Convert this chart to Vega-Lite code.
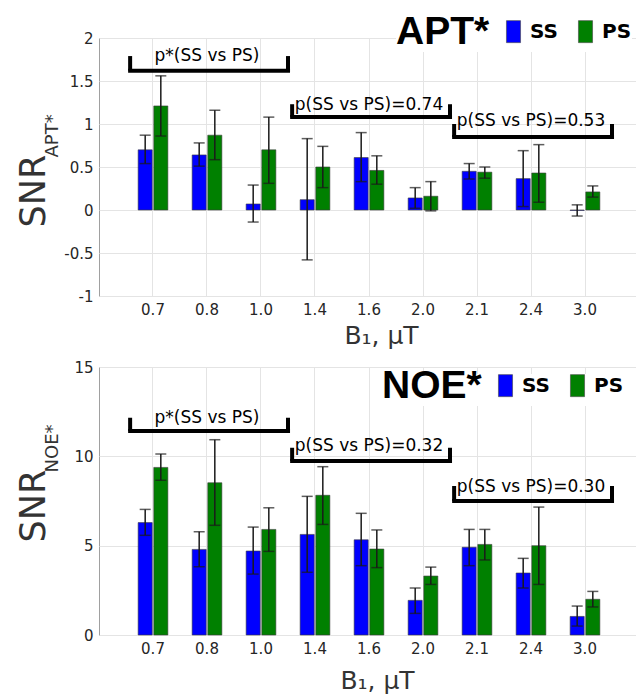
{
  "$schema": "https://vega.github.io/schema/vega-lite/v6.json",
  "background": "white",
  "padding": {"left": 15, "top": 19, "right": 0, "bottom": 0},
  "spacing": 10,
  "resolve": {"scale": {"color": "independent"}, "legend": {"color": "independent"}},
  "datasets": {
    "apt": [
      {"b1": "0.7", "seq": "SS", "snr": 0.70, "lo": 0.54, "hi": 0.87},
      {"b1": "0.7", "seq": "PS", "snr": 1.21, "lo": 0.86, "hi": 1.56},
      {"b1": "0.8", "seq": "SS", "snr": 0.64, "lo": 0.51, "hi": 0.78},
      {"b1": "0.8", "seq": "PS", "snr": 0.87, "lo": 0.585, "hi": 1.16},
      {"b1": "1.0", "seq": "SS", "snr": 0.07, "lo": -0.14, "hi": 0.29},
      {"b1": "1.0", "seq": "PS", "snr": 0.70, "lo": 0.31, "hi": 1.08},
      {"b1": "1.4", "seq": "SS", "snr": 0.12, "lo": -0.58, "hi": 0.83},
      {"b1": "1.4", "seq": "PS", "snr": 0.50, "lo": 0.26, "hi": 0.74},
      {"b1": "1.6", "seq": "SS", "snr": 0.61, "lo": 0.33, "hi": 0.90},
      {"b1": "1.6", "seq": "PS", "snr": 0.46, "lo": 0.30, "hi": 0.63},
      {"b1": "2.0", "seq": "SS", "snr": 0.14, "lo": 0.02, "hi": 0.26},
      {"b1": "2.0", "seq": "PS", "snr": 0.16, "lo": -0.01, "hi": 0.33},
      {"b1": "2.1", "seq": "SS", "snr": 0.45, "lo": 0.36, "hi": 0.54},
      {"b1": "2.1", "seq": "PS", "snr": 0.44, "lo": 0.37, "hi": 0.50},
      {"b1": "2.4", "seq": "SS", "snr": 0.365, "lo": 0.04, "hi": 0.69},
      {"b1": "2.4", "seq": "PS", "snr": 0.43, "lo": 0.09, "hi": 0.76},
      {"b1": "3.0", "seq": "SS", "snr": -0.005, "lo": -0.07, "hi": 0.06},
      {"b1": "3.0", "seq": "PS", "snr": 0.21, "lo": 0.15, "hi": 0.28}
    ],
    "noe": [
      {"b1": "0.7", "seq": "SS", "snr": 6.29, "lo": 5.58, "hi": 7.03},
      {"b1": "0.7", "seq": "PS", "snr": 9.38, "lo": 8.66, "hi": 10.13},
      {"b1": "0.8", "seq": "SS", "snr": 4.79, "lo": 3.82, "hi": 5.78},
      {"b1": "0.8", "seq": "PS", "snr": 8.52, "lo": 6.14, "hi": 10.93},
      {"b1": "1.0", "seq": "SS", "snr": 4.70, "lo": 3.41, "hi": 6.04},
      {"b1": "1.0", "seq": "PS", "snr": 5.91, "lo": 4.68, "hi": 7.12},
      {"b1": "1.4", "seq": "SS", "snr": 5.63, "lo": 3.51, "hi": 7.76},
      {"b1": "1.4", "seq": "PS", "snr": 7.82, "lo": 6.19, "hi": 9.42},
      {"b1": "1.6", "seq": "SS", "snr": 5.33, "lo": 3.88, "hi": 6.81},
      {"b1": "1.6", "seq": "PS", "snr": 4.81, "lo": 3.77, "hi": 5.88},
      {"b1": "2.0", "seq": "SS", "snr": 1.94, "lo": 1.21, "hi": 2.63},
      {"b1": "2.0", "seq": "PS", "snr": 3.30, "lo": 2.83, "hi": 3.80},
      {"b1": "2.1", "seq": "SS", "snr": 4.91, "lo": 3.88, "hi": 5.91},
      {"b1": "2.1", "seq": "PS", "snr": 5.07, "lo": 4.20, "hi": 5.91},
      {"b1": "2.4", "seq": "SS", "snr": 3.47, "lo": 2.63, "hi": 4.29},
      {"b1": "2.4", "seq": "PS", "snr": 5.00, "lo": 2.83, "hi": 7.16},
      {"b1": "3.0", "seq": "SS", "snr": 1.04, "lo": 0.50, "hi": 1.62},
      {"b1": "3.0", "seq": "PS", "snr": 2.00, "lo": 1.57, "hi": 2.44}
    ],
    "aptBr": [
      {"from": "0.7", "to": "1.0", "mid": "0.8", "bar": 1.62, "top": 1.79, "ty": 1.727, "label": "p*(SS vs PS)"},
      {"from": "1.4", "to": "2.0", "mid": "1.6", "bar": 1.08, "top": 1.23, "ty": 1.157, "label": "p(SS vs PS)=0.74"},
      {"from": "2.1", "to": "3.0", "mid": "2.4", "bar": 0.85, "top": 1.0, "ty": 0.971, "label": "p(SS vs PS)=0.53"}
    ],
    "noeBr": [
      {"from": "0.7", "to": "1.0", "mid": "0.8", "bar": 11.42, "top": 12.16, "ty": 11.84, "label": "p*(SS vs PS)"},
      {"from": "1.4", "to": "2.0", "mid": "1.6", "bar": 9.74, "top": 10.48, "ty": 10.32, "label": "p(SS vs PS)=0.32"},
      {"from": "2.1", "to": "3.0", "mid": "2.4", "bar": 7.50, "top": 8.34, "ty": 8.03, "label": "p(SS vs PS)=0.30"}
    ]
  },
  "vconcat": [
    {
      "width": 540,
      "height": 258,
      "resolve": {"axis": {"y": "independent"}},
      "layer": [
        {
          "data": {"name": "apt"},
          "mark": {"type": "bar", "stroke": "#3a3a3a", "strokeWidth": 0.6},
          "encoding": {
            "x": {"field": "b1", "type": "nominal", "title": "B₁, μT", "scale": {"domain": ["0.7","0.8","1.0","1.4","1.6","2.0","2.1","2.4","3.0"], "paddingInner": 0.45, "paddingOuter": 0.725}, "axis": {"titleX": 282, "titleY": 47}},
            "xOffset": {"field": "seq", "type": "nominal", "scale": {"domain": ["SS", "PS"], "paddingInner": 0.1}},
            "y": {"field": "snr", "type": "quantitative", "scale": {"domain": [-1, 2], "nice": false, "zero": false},
                  "axis": {"values": [-1, -0.5, 0, 0.5, 1, 1.5, 2], "labelExpr": "'' + datum.value", "grid": true, "title": "SNR", "titleFontSize": 35, "titleX": -55, "titleY": 189}},
            "color": {"field": "seq", "type": "nominal", "scale": {"domain": ["SS", "PS"], "range": ["#0000ff", "#008000"]},
                      "legend": {"title": "APT*", "legendX": 297, "legendY": -18}}
          }
        },
        {
          "data": {"name": "apt"},
          "mark": {"type": "rule", "color": "#1a1a1a", "strokeWidth": 1.5},
          "encoding": {
            "x": {"field": "b1", "type": "nominal", "title": "B₁, μT", "axis": {"titleX": 282, "titleY": 47}},
            "xOffset": {"field": "seq", "type": "nominal"},
            "y": {"field": "lo", "type": "quantitative", "axis": {"orient": "left", "title": "APT*", "labels": false, "ticks": false, "domain": false, "grid": false, "titleFontSize": 18, "titleX": -42, "titleY": 119}},
            "y2": {"field": "hi"}
          }
        },
        {
          "data": {"name": "apt"},
          "mark": {"type": "tick", "orient": "horizontal", "color": "#1a1a1a", "size": 11, "thickness": 1.5},
          "encoding": {
            "x": {"field": "b1", "type": "nominal", "title": "B₁, μT", "axis": {"titleX": 282, "titleY": 47}},
            "xOffset": {"field": "seq", "type": "nominal"},
            "y": {"field": "lo", "type": "quantitative", "axis": null}
          }
        },
        {
          "data": {"name": "apt"},
          "mark": {"type": "tick", "orient": "horizontal", "color": "#1a1a1a", "size": 11, "thickness": 1.5},
          "encoding": {
            "x": {"field": "b1", "type": "nominal", "title": "B₁, μT", "axis": {"titleX": 282, "titleY": 47}},
            "xOffset": {"field": "seq", "type": "nominal"},
            "y": {"field": "hi", "type": "quantitative", "axis": null}
          }
        },
        {
          "data": {"name": "aptBr"},
          "mark": {"type": "rule", "color": "black", "strokeWidth": 4, "strokeCap": "square"},
          "encoding": {
            "x": {"field": "from", "type": "nominal", "title": "B₁, μT", "bandPosition": -0.27, "axis": {"titleX": 282, "titleY": 47}},
            "x2": {"field": "to", "bandPosition": 1.41},
            "y": {"field": "bar", "type": "quantitative", "axis": null}
          }
        },
        {
          "data": {"name": "aptBr"},
          "mark": {"type": "rule", "color": "black", "strokeWidth": 4},
          "encoding": {
            "x": {"field": "from", "type": "nominal", "title": "B₁, μT", "bandPosition": -0.27, "axis": {"titleX": 282, "titleY": 47}},
            "y": {"field": "bar", "type": "quantitative", "axis": null},
            "y2": {"field": "top"}
          }
        },
        {
          "data": {"name": "aptBr"},
          "mark": {"type": "rule", "color": "black", "strokeWidth": 4},
          "encoding": {
            "x": {"field": "to", "type": "nominal", "title": "B₁, μT", "bandPosition": 1.41, "axis": {"titleX": 282, "titleY": 47}},
            "y": {"field": "bar", "type": "quantitative", "axis": null},
            "y2": {"field": "top"}
          }
        },
        {
          "data": {"name": "aptBr"},
          "mark": {"type": "text", "font": "DejaVu Sans", "fontSize": 17, "color": "black", "baseline": "alphabetic", "align": "center"},
          "encoding": {
            "x": {"field": "mid", "type": "nominal", "title": "B₁, μT", "axis": {"titleX": 282, "titleY": 47}},
            "y": {"field": "ty", "type": "quantitative", "axis": null},
            "text": {"field": "label"}
          }
        }
      ]
    },
    {
      "width": 540,
      "height": 268,
      "resolve": {"axis": {"y": "independent"}},
      "layer": [
        {
          "data": {"name": "noe"},
          "mark": {"type": "bar", "stroke": "#3a3a3a", "strokeWidth": 0.6},
          "encoding": {
            "x": {"field": "b1", "type": "nominal", "title": "B₁, μT", "scale": {"domain": ["0.7","0.8","1.0","1.4","1.6","2.0","2.1","2.4","3.0"], "paddingInner": 0.45, "paddingOuter": 0.725}, "axis": {"titleX": 278, "titleY": 53}},
            "xOffset": {"field": "seq", "type": "nominal", "scale": {"domain": ["SS", "PS"], "paddingInner": 0.1}},
            "y": {"field": "snr", "type": "quantitative", "scale": {"domain": [0, 15], "nice": false},
                  "axis": {"values": [0, 5, 10, 15], "labelExpr": "'' + datum.value", "grid": true, "title": "SNR", "titleFontSize": 35, "titleX": -55, "titleY": 175}},
            "color": {"field": "seq", "type": "nominal", "scale": {"domain": ["SS", "PS"], "range": ["#0000ff", "#008000"]},
                      "legend": {"title": "NOE*", "legendX": 283, "legendY": 7}}
          }
        },
        {
          "data": {"name": "noe"},
          "mark": {"type": "rule", "color": "#1a1a1a", "strokeWidth": 1.5},
          "encoding": {
            "x": {"field": "b1", "type": "nominal", "title": "B₁, μT", "axis": {"titleX": 278, "titleY": 53}},
            "xOffset": {"field": "seq", "type": "nominal"},
            "y": {"field": "lo", "type": "quantitative", "axis": {"orient": "left", "title": "NOE*", "labels": false, "ticks": false, "domain": false, "grid": false, "titleFontSize": 18, "titleX": -42, "titleY": 105}},
            "y2": {"field": "hi"}
          }
        },
        {
          "data": {"name": "noe"},
          "mark": {"type": "tick", "orient": "horizontal", "color": "#1a1a1a", "size": 11, "thickness": 1.5},
          "encoding": {
            "x": {"field": "b1", "type": "nominal", "title": "B₁, μT", "axis": {"titleX": 278, "titleY": 53}},
            "xOffset": {"field": "seq", "type": "nominal"},
            "y": {"field": "lo", "type": "quantitative", "axis": null}
          }
        },
        {
          "data": {"name": "noe"},
          "mark": {"type": "tick", "orient": "horizontal", "color": "#1a1a1a", "size": 11, "thickness": 1.5},
          "encoding": {
            "x": {"field": "b1", "type": "nominal", "title": "B₁, μT", "axis": {"titleX": 278, "titleY": 53}},
            "xOffset": {"field": "seq", "type": "nominal"},
            "y": {"field": "hi", "type": "quantitative", "axis": null}
          }
        },
        {
          "data": {"name": "noeBr"},
          "mark": {"type": "rule", "color": "black", "strokeWidth": 4, "strokeCap": "square"},
          "encoding": {
            "x": {"field": "from", "type": "nominal", "title": "B₁, μT", "bandPosition": -0.27, "axis": {"titleX": 278, "titleY": 53}},
            "x2": {"field": "to", "bandPosition": 1.41},
            "y": {"field": "bar", "type": "quantitative", "axis": null}
          }
        },
        {
          "data": {"name": "noeBr"},
          "mark": {"type": "rule", "color": "black", "strokeWidth": 4},
          "encoding": {
            "x": {"field": "from", "type": "nominal", "title": "B₁, μT", "bandPosition": -0.27, "axis": {"titleX": 278, "titleY": 53}},
            "y": {"field": "bar", "type": "quantitative", "axis": null},
            "y2": {"field": "top"}
          }
        },
        {
          "data": {"name": "noeBr"},
          "mark": {"type": "rule", "color": "black", "strokeWidth": 4},
          "encoding": {
            "x": {"field": "to", "type": "nominal", "title": "B₁, μT", "bandPosition": 1.41, "axis": {"titleX": 278, "titleY": 53}},
            "y": {"field": "bar", "type": "quantitative", "axis": null},
            "y2": {"field": "top"}
          }
        },
        {
          "data": {"name": "noeBr"},
          "mark": {"type": "text", "font": "DejaVu Sans", "fontSize": 17, "color": "black", "baseline": "alphabetic", "align": "center"},
          "encoding": {
            "x": {"field": "mid", "type": "nominal", "title": "B₁, μT", "axis": {"titleX": 278, "titleY": 53}},
            "y": {"field": "ty", "type": "quantitative", "axis": null},
            "text": {"field": "label"}
          }
        }
      ]
    }
  ],
  "config": {
    "font": "DejaVu Sans",
    "view": {"stroke": "#a0a0a0", "strokeWidth": 1},
    "axis": {
      "labelFont": "DejaVu Sans", "labelFontSize": 15, "labelColor": "#262626",
      "titleFont": "DejaVu Sans", "titleColor": "#333333", "titleFontWeight": "normal",
      "ticks": false, "domain": false, "gridColor": "#e4e4e4", "gridWidth": 1
    },
    "axisX": {"labelAngle": 0, "grid": true, "titleFontSize": 25, "titleBaseline": "alphabetic", "titleAlign": "center", "labelPadding": 6},
    "axisY": {"labelPadding": 6, "titleAngle": 270, "titleAlign": "left", "titleBaseline": "alphabetic"},
    "legend": {
      "orient": "none", "direction": "horizontal", "titleOrient": "left",
      "titleFont": "Liberation Sans", "titleFontSize": 39, "titleFontWeight": "bold", "titleColor": "black", "titleLimit": 300,
      "labelFont": "DejaVu Sans", "labelFontSize": 20, "labelFontWeight": "bold", "labelColor": "black",
      "symbolType": "M-0.64,-1H0.64V1H-0.64Z", "symbolSize": 484, "symbolStrokeColor": "#444444", "symbolStrokeWidth": 0.6,
      "labelOffset": 5, "columnPadding": 16, "titlePadding": 12, "padding": 0, "fillColor": "white"
    }
  }
}
